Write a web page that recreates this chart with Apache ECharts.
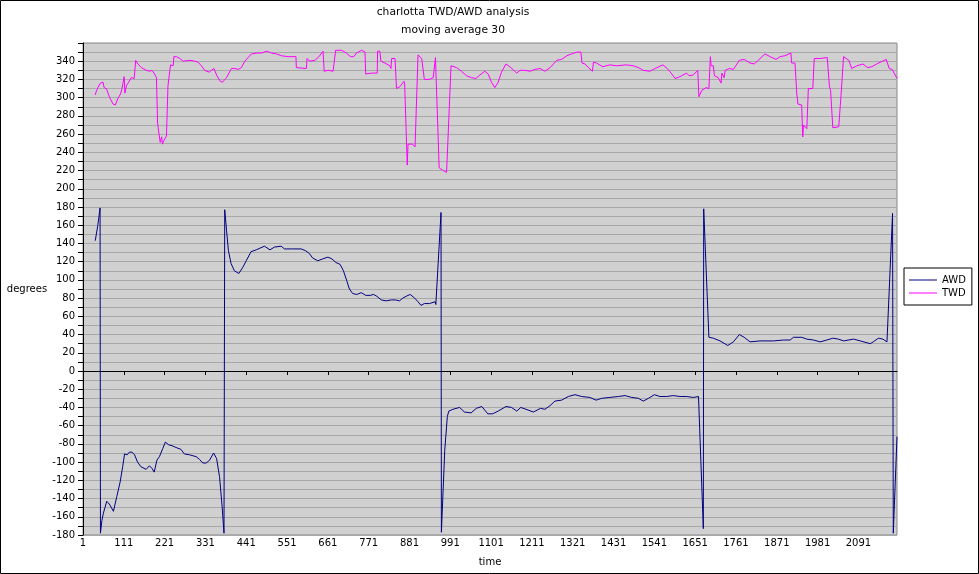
<!DOCTYPE html>
<html>
<head>
<meta charset="utf-8">
<script src="https://cdn.jsdelivr.net/npm/echarts@6/dist/echarts.min.js"></script>
<style>
html,body{margin:0;padding:0;background:#fff;}
#c{width:979px;height:574px;}
</style>
</head>
<body>
<div id="c"></div>
<script>
// x values are 0-based sample indices; tick labels show index+1
const xTickStart = 1;
const xTickStep = 110;
const xMaxIndex = 2194;
const yMin = -180, yMax = 360, yStep = 20;
const seriesNames = ['AWD', 'TWD'];

const awd = [[33,143],[40,160],[46,179],[47,-178],[51,-164],[55,-156],[64,-143],[71,-146],[82,-154],[85,-153],[91,-138],[100,-122],[107,-105],[112,-91],[119,-92],[125,-89],[132,-89],[139,-92],[147,-100],[156,-105],[170,-108],[179,-104],[186,-107],[192,-111],[199,-98],[206,-94],[215,-85],[222,-78],[231,-81],[240,-82],[251,-84],[264,-86],[273,-91],[287,-92],[305,-94],[314,-97],[323,-101],[332,-101],[341,-98],[352,-90],[360,-96],[368,-116],[375,-149],[380,-178],[382,177],[387,154],[392,132],[399,118],[408,110],[420,107],[431,114],[440,121],[453,131],[467,133],[489,137],[504,133],[516,136],[534,137],[543,134],[565,134],[588,134],[600,132],[610,129],[619,124],[633,121],[646,123],[660,125],[671,123],[682,119],[693,117],[702,110],[711,99],[718,90],[727,85],[738,84],[750,86],[762,83],[774,83],[783,84],[792,82],[804,78],[817,77],[831,78],[842,78],[853,77],[862,80],[871,82],[882,84],[894,80],[903,76],[911,72],[920,74],[934,74],[949,76],[951,73],[965,174],[966,-177],[975,-87],[982,-50],[986,-44],[997,-42],[1015,-40],[1028,-45],[1046,-46],[1060,-41],[1075,-39],[1091,-47],[1104,-47],[1108,-49],[1119,-44],[1140,-39],[1155,-40],[1169,-44],[1180,-40],[1194,-42],[1214,-45],[1233,-41],[1245,-42],[1259,-38],[1272,-33],[1290,-32],[1308,-28],[1326,-26],[1344,-28],[1366,-29],[1383,-32],[1398,-30],[1420,-29],[1443,-28],[1461,-27],[1479,-29],[1497,-30],[1510,-33],[1524,-30],[1540,-26],[1555,-28],[1573,-28],[1591,-27],[1609,-28],[1627,-28],[1645,-29],[1659,-28],[1672,-173],[1673,178],[1687,37],[1699,36],[1717,33],[1738,28],[1753,32],[1769,40],[1782,37],[1798,32],[1825,33],[1861,33],[1888,34],[1906,34],[1915,37],[1937,37],[1951,35],[1969,34],[1987,32],[2005,34],[2021,36],[2036,35],[2050,33],[2077,35],[2095,33],[2122,30],[2130,32],[2144,36],[2156,35],[2167,32],[2182,173],[2184,-178],[2194,-72]];

const twd = [[33,303],[35,306],[40,311],[47,316],[54,317],[57,311],[63,310],[72,300],[81,293],[87,292],[94,299],[101,304],[105,310],[111,323],[113,305],[117,313],[123,317],[130,322],[138,321],[140,319],[142,341],[148,337],[157,333],[171,330],[180,329],[186,330],[193,326],[198,322],[201,272],[203,272],[205,273],[208,251],[212,257],[214,249],[218,253],[225,258],[229,313],[232,314],[236,336],[243,335],[245,345],[252,345],[261,343],[270,340],[274,340],[288,341],[301,340],[310,339],[319,335],[328,330],[340,328],[346,330],[353,332],[361,324],[370,318],[376,317],[387,322],[400,332],[409,332],[418,331],[427,333],[436,340],[445,344],[454,348],[468,349],[481,349],[495,351],[508,349],[522,348],[535,346],[553,345],[574,345],[575,333],[602,332],[604,343],[611,340],[625,341],[636,345],[647,351],[650,329],[661,330],[674,329],[679,329],[681,352],[697,352],[710,349],[721,345],[730,345],[737,349],[751,352],[760,350],[762,326],[778,327],[793,327],[794,351],[800,351],[803,340],[814,338],[827,335],[830,332],[832,343],[841,343],[843,344],[845,310],[854,312],[865,318],[867,315],[874,226],[876,249],[888,249],[895,246],[903,347],[913,343],[917,343],[920,320],[933,320],[944,322],[948,323],[950,344],[960,223],[971,220],[980,218],[992,335],[1007,333],[1020,329],[1034,324],[1047,322],[1059,321],[1070,325],[1083,329],[1092,326],[1101,317],[1110,311],[1119,317],[1128,328],[1140,337],[1153,333],[1169,327],[1178,330],[1191,330],[1205,329],[1218,331],[1232,332],[1245,329],[1259,333],[1277,341],[1290,342],[1304,346],[1317,348],[1331,350],[1342,350],[1345,338],[1353,337],[1362,333],[1373,329],[1376,339],[1384,338],[1388,338],[1401,334],[1420,336],[1438,335],[1465,336],[1483,335],[1497,333],[1510,330],[1528,329],[1542,332],[1563,336],[1575,332],[1587,326],[1596,321],[1609,323],[1627,327],[1634,324],[1645,325],[1657,330],[1660,301],[1668,308],[1679,311],[1687,310],[1691,345],[1693,335],[1699,335],[1702,324],[1712,322],[1720,316],[1722,327],[1728,322],[1731,330],[1742,332],[1753,331],[1769,341],[1782,342],[1798,338],[1809,337],[1820,341],[1838,348],[1852,345],[1868,342],[1879,345],[1892,346],[1908,349],[1910,338],[1919,338],[1924,304],[1927,293],[1937,292],[1940,257],[1942,270],[1951,266],[1955,310],[1967,310],[1971,343],[1987,343],[2006,344],[2009,345],[2012,312],[2015,308],[2021,267],[2037,268],[2041,270],[2043,302],[2046,300],[2050,345],[2064,341],[2072,332],[2086,335],[2102,337],[2115,333],[2126,334],[2144,338],[2165,342],[2168,342],[2173,332],[2181,331],[2194,321]];

const FONT = 'DejaVu Sans';
const chart = echarts.init(document.getElementById('c'), null, {renderer: 'canvas'});
chart.setOption({
  animation: false,
  backgroundColor: '#ffffff',
  graphic: [
    {type: 'rect', silent: true, z: 100, shape: {x: 0.5, y: 0.5, width: 978, height: 573}, style: {fill: 'none', stroke: '#000', lineWidth: 1}},
    {type: 'text', silent: true, x: 453, y: 12.5, style: {text: 'charlotta TWD/AWD analysis', fontFamily: FONT, fontSize: 10.7, fill: '#000', align: 'center', verticalAlign: 'middle'}},
    {type: 'text', silent: true, x: 453, y: 30.5, style: {text: 'moving average 30', fontFamily: FONT, fontSize: 10.7, fill: '#000', align: 'center', verticalAlign: 'middle'}},
    {type: 'text', silent: true, x: 27, y: 289, style: {text: 'degrees', fontFamily: FONT, fontSize: 10, fill: '#000', align: 'center', verticalAlign: 'middle'}}
  ],
  legend: {
    orient: 'vertical',
    left: 904, top: 268,
    padding: [7, 6, 7, 5],
    itemWidth: 28, itemHeight: 1, itemGap: 3,
    icon: 'rect',
    backgroundColor: '#fff', borderColor: '#000', borderWidth: 1, borderRadius: 0,
    textStyle: {fontFamily: FONT, fontSize: 10, color: '#000', padding: [0,0,0,0]},
    data: seriesNames.map(n => ({name: n, icon: 'rect'}))
  },
  grid: {left: 83, top: 43, right: 82, bottom: 39, show: true, backgroundColor: '#d0d0d0', borderColor: '#888', borderWidth: 1, containLabel: false},
  xAxis: {
    type: 'value', min: 0, max: xMaxIndex, interval: xTickStep,
    name: 'time', nameLocation: 'middle', nameGap: 22,
    nameTextStyle: {fontFamily: FONT, fontSize: 10, color: '#000'},
    axisLine: {show: true, lineStyle: {color: '#000', width: 1}},
    axisTick: {show: true, length: 4, lineStyle: {color: '#000'}},
    axisLabel: {fontFamily: FONT, fontSize: 10, color: '#000', margin: 3, showMaxLabel: false,
      formatter: v => String(v + xTickStart)},
    splitLine: {show: false}
  },
  yAxis: {
    type: 'value', min: yMin, max: yMax, interval: yStep,
    axisLine: {show: true, lineStyle: {color: '#000', width: 1}},
    axisTick: {show: true, length: 5, lineStyle: {color: '#000'}},
    minorTick: {show: true, splitNumber: 2, length: 5, lineStyle: {color: '#000'}},
    axisLabel: {fontFamily: FONT, fontSize: 10, color: '#000', margin: 8, showMaxLabel: false},
    splitLine: {show: true, lineStyle: {color: '#a8a8a8', width: 1}},
    minorSplitLine: {show: true, lineStyle: {color: '#a8a8a8', width: 1}}
  },
  series: [
    {name: seriesNames[0], type: 'line', data: awd, showSymbol: false, symbol: 'none', color: '#000080', lineStyle: {color: '#000080', width: 1}},
    {name: seriesNames[1], type: 'line', data: twd, showSymbol: false, symbol: 'none', color: '#ff00ff', lineStyle: {color: '#ff00ff', width: 1}}
  ]
});
</script>
</body>
</html>
